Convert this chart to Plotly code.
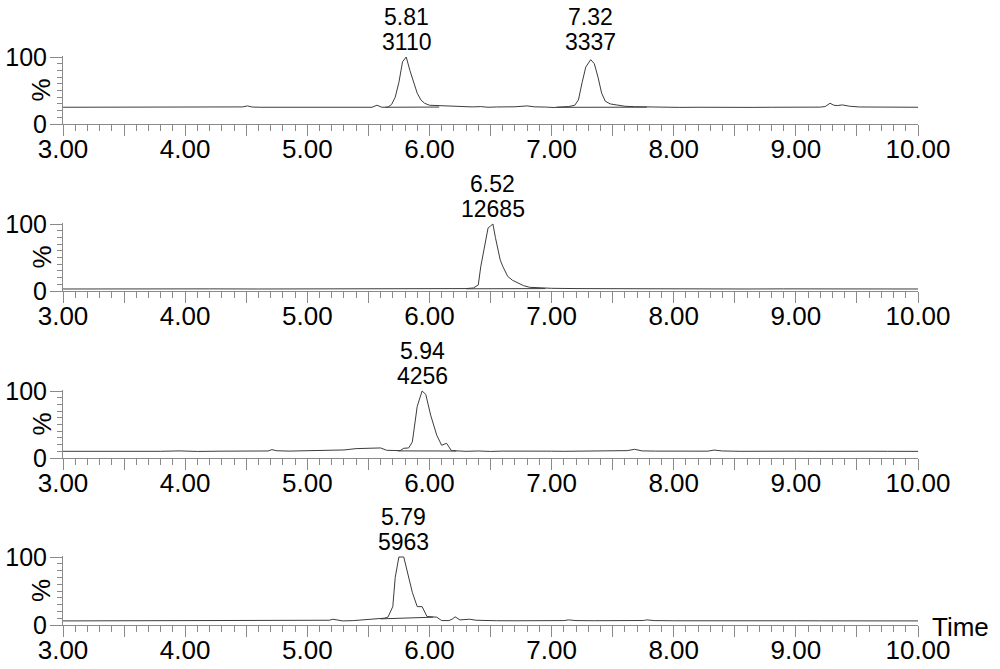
import plotly.graph_objects as go

# ---- data ----
RT1 = [3.00, 3.50, 4.00, 4.40, 4.47, 4.51, 4.55, 4.62, 5.00, 5.30,
       5.45, 5.53, 5.57, 5.61, 5.66, 5.69, 5.72, 5.75, 5.78, 5.81,
       5.84, 5.87, 5.90, 5.93, 5.96, 6.00, 6.05, 6.12, 6.20, 6.28,
       6.35, 6.42, 6.48, 6.55, 6.62, 6.70, 6.80, 6.86, 6.95, 7.02,
       7.08, 7.14, 7.19, 7.22, 7.25, 7.28, 7.32, 7.35, 7.38, 7.41,
       7.44, 7.48, 7.53, 7.60, 7.68, 7.76, 7.85, 7.95, 8.05, 8.20,
       8.35, 8.50, 8.65, 8.80, 8.95, 9.10, 9.20, 9.24, 9.28, 9.31,
       9.34, 9.38, 9.44, 9.52, 9.65, 9.80, 10.00]
INT1 = [25, 25, 25, 25, 25.5, 27, 25.3, 25, 25, 25,
        24.8, 25, 28, 25, 25.2, 29, 40, 62, 93, 100,
        80, 62, 46, 36, 31, 28, 27.5, 26.8, 26.3, 26,
        25.5, 26, 25, 25.4, 25.2, 25.7, 27, 25.6, 25.3, 24.6,
        25.5, 26, 28, 36, 62, 85, 96, 90, 70, 46,
        34, 30, 28.5, 26.5, 25.8, 25.4, 25, 25.2, 24.8, 25,
        25.3, 25, 24.8, 25, 24.9, 25, 25.2, 26, 31, 28,
        27.5, 28.5, 26.5, 25.4, 25, 25.2, 25]

RT2 = [3.00, 3.40, 3.80, 4.20, 4.60, 5.00, 5.40, 5.80, 6.00, 6.15,
       6.25, 6.30, 6.36, 6.40, 6.42, 6.48, 6.50, 6.52, 6.54, 6.56,
       6.58, 6.60, 6.64, 6.68, 6.72, 6.77, 6.82, 6.90, 7.00, 7.20,
       7.40, 7.60, 7.80, 8.00, 8.30, 8.60, 8.90, 9.20, 9.50, 9.80,
       10.00]
INT2 = [3, 3.3, 3, 3.2, 3, 3.1, 3.3, 3.2, 3.4, 3.3,
        3.5, 3.6, 4.5, 9, 36, 94, 97, 100, 80, 60,
        46, 37, 22, 16, 12, 8, 5.5, 4.5, 4, 3.6,
        3.4, 3.3, 3.2, 3, 3.3, 3, 3.2, 3.1, 3.4, 3,
        3]

RT3 = [3.00, 3.20, 3.40, 3.60, 3.80, 3.95, 4.10, 4.30, 4.50, 4.62,
       4.68, 4.71, 4.75, 4.85, 5.00, 5.15, 5.30, 5.40, 5.50, 5.60,
       5.65, 5.70, 5.76, 5.79, 5.83, 5.86, 5.90, 5.94, 5.97, 6.01,
       6.06, 6.10, 6.14, 6.18, 6.22, 6.30, 6.40, 6.50, 6.60, 6.70,
       6.80, 6.90, 7.00, 7.10, 7.20, 7.35, 7.50, 7.62, 7.68, 7.74,
       7.85, 8.00, 8.15, 8.28, 8.33, 8.40, 8.55, 8.70, 8.85, 9.00,
       9.15, 9.30, 9.45, 9.60, 9.75, 9.90, 10.00]
INT3 = [10, 9.8, 10.2, 9.9, 10, 10.6, 9.8, 10.2, 10.4, 11,
        10.5, 12.5, 10.8, 10.3, 10.6, 11, 12, 14, 14.5, 15,
        11.5, 10.8, 11, 14.5, 15, 24, 77, 100, 95, 64,
        34, 19, 22, 11, 10.3, 10, 10.5, 9.8, 10.3, 10,
        10.4, 9.9, 10.2, 10, 10.3, 9.8, 10.2, 11, 13, 10.6,
        10.3, 10, 10.4, 10.2, 11.8, 10.5, 10, 10.3, 9.9, 10.2,
        10, 10.4, 9.8, 10.1, 10, 9.8, 9.9]

RT4 = [3.00, 3.30, 3.60, 3.90, 4.20, 4.50, 4.80, 5.00, 5.10, 5.18,
       5.21, 5.25, 5.29, 5.38, 5.45, 5.52, 5.59, 5.63, 5.66, 5.70,
       5.72, 5.75, 5.79, 5.82, 5.86, 5.90, 5.94, 5.98, 6.02, 6.06,
       6.10, 6.16, 6.19, 6.21, 6.25, 6.29, 6.33, 6.38, 6.45, 6.55,
       6.70, 6.85, 7.00, 7.10, 7.14, 7.20, 7.35, 7.50, 7.65, 7.75,
       7.78, 7.84, 8.00, 8.20, 8.40, 8.60, 8.80, 9.00, 9.20, 9.40,
       9.60, 9.80, 10.00]
INT4 = [6, 6.2, 6, 6.3, 6.1, 6, 6.2, 6.3, 6.5, 7,
        8.5, 7.5, 6, 6.5, 7.5, 8, 9, 10, 11.5, 27,
        70, 100, 100, 78, 48, 27, 27, 12.5, 12, 11.5,
        6.5, 6.5, 9, 12, 7.5, 8, 8.5, 7, 6.5, 6.3,
        6.2, 6.4, 6.2, 6.5, 7.5, 6.5, 6.3, 6.2, 6.4, 6.6,
        7.5, 6.5, 6.2, 6.4, 6.1, 6.3, 6, 6.2, 6.1, 6.3,
        6, 6.2, 6]

# peak labels: retention time and area
PEAK_RT = [[5.81, 7.32], [6.52], [5.94], [5.79]]
PEAK_AREA = [[3110, 3337], [12685], [4256], [5963]]

# integration baselines: (start, end, start level, end level)
INT_BASE = [[(5.64, 6.08, 25, 25.3), (7.04, 7.78, 24.9, 25.1)],
            [(6.30, 6.95, 3.3, 3.6)],
            [(5.74, 6.22, 10.6, 10.4)],
            [(5.60, 6.03, 9, 11.5)]]

X_TICKS = [3.0, 3.5, 4.0, 4.5, 5.0, 5.5, 6.0, 6.5, 7.0, 7.5, 8.0, 8.5, 9.0, 9.5, 10.0]
X_LABELS = ["3.00", "", "4.00", "", "5.00", "", "6.00", "", "7.00", "", "8.00", "", "9.00", "", "10.00"]

times = [RT1, RT2, RT3, RT4]
intens = [INT1, INT2, INT3, INT4]

# ---- layout geometry (pixels) ----
W, H = 1000, 669
TOP = [57, 224, 391, 557]      # row of 100 %
BOT = [124, 291, 458, 625]     # row of 0 %
X0, X1 = 63, 918               # columns of 3.00 and 10.00
YMAX = 102
FONT = "Liberation Sans, Arial, sans-serif"
AXC = "#8a8a8a"
LINEC = "#3c3c3c"


def fx(px):
    return px / W


def fy(py):
    return 1 - py / H


fig = go.Figure()
annotations = []
layout = {}

for k in range(4):
    sfx = "" if k == 0 else str(k + 1)
    xr, yr = "x" + sfx, "y" + sfx

    fig.add_trace(go.Scatter(x=times[k], y=intens[k], mode="lines",
                             line=dict(color=LINEC, width=1),
                             xaxis=xr, yaxis=yr, showlegend=False))
    for (t0, t1, b0, b1) in INT_BASE[k]:
        fig.add_trace(go.Scatter(x=[t0, t1], y=[b0, b1], mode="lines",
                                 line=dict(color=LINEC, width=1),
                                 xaxis=xr, yaxis=yr, showlegend=False))

    px_per = (BOT[k] - TOP[k]) / 100
    top_px = BOT[k] - px_per * YMAX
    layout["xaxis" + sfx] = dict(
        domain=[fx(X0), fx(X1)], anchor=yr, range=[3, 10], automargin=False,
        tickmode="array", tickvals=X_TICKS, ticktext=X_LABELS,
        ticks="outside", ticklen=11, tickcolor=AXC, tickwidth=1,
        ticklabelstandoff=-9,
        minor=dict(dtick=0.1, ticks="outside", ticklen=6, tickcolor=AXC, tickwidth=1),
        showline=True, linecolor=AXC, linewidth=1,
        showgrid=False, zeroline=False,
        tickfont=dict(family=FONT, size=26, color="black"),
    )
    layout["yaxis" + sfx] = dict(
        domain=[fy(BOT[k]), fy(top_px)], anchor=xr, range=[0, YMAX],
        automargin=False,
        tickmode="array", tickvals=[0, 100], ticktext=["0", "100"],
        ticks="outside", ticklen=12, tickcolor=AXC, tickwidth=1,
        ticklabelstandoff=-2,
        minor=dict(tickmode="array", tickvals=[10, 20, 30, 40, 50, 60, 70, 80, 90],
                   ticks="outside", ticklen=5, tickcolor=AXC, tickwidth=1),
        showline=True, linecolor=AXC, linewidth=1,
        showgrid=False, zeroline=False,
        tickfont=dict(family=FONT, size=25, color="black"),
    )

    for rt, area in zip(PEAK_RT[k], PEAK_AREA[k]):
        annotations.append(dict(x=rt, y=100, xref=xr, yref=yr, text=str(area),
                                showarrow=False, yanchor="bottom", xanchor="center",
                                font=dict(family=FONT, size=23, color="black")))
        annotations.append(dict(x=rt, y=100, xref=xr, yref=yr, text=f"{rt:.2f}",
                                showarrow=False, yanchor="bottom", xanchor="center",
                                yshift=25,
                                font=dict(family=FONT, size=23, color="black")))

    annotations.append(dict(x=fx(41), y=fy((TOP[k] + BOT[k]) / 2),
                            xref="paper", yref="paper", text="%", textangle=-90,
                            showarrow=False, xanchor="center", yanchor="middle",
                            font=dict(family=FONT, size=26, color="black")))

annotations.append(dict(x=fx(930), y=fy(627), xref="paper", yref="paper",
                        text="Time", showarrow=False, xanchor="left", yanchor="middle",
                        font=dict(family=FONT, size=26, color="black")))

fig.update_layout(
    width=W, height=H,
    margin=dict(l=0, r=0, t=0, b=0, autoexpand=False),
    paper_bgcolor="white", plot_bgcolor="white",
    annotations=annotations,
    showlegend=False,
    **layout,
)

# drop the default page margin so the 1000x669 figure fills the window
fig.write_html("out.html", config={"displayModeBar": False},
               post_script="document.body.style.margin = '0px';")
